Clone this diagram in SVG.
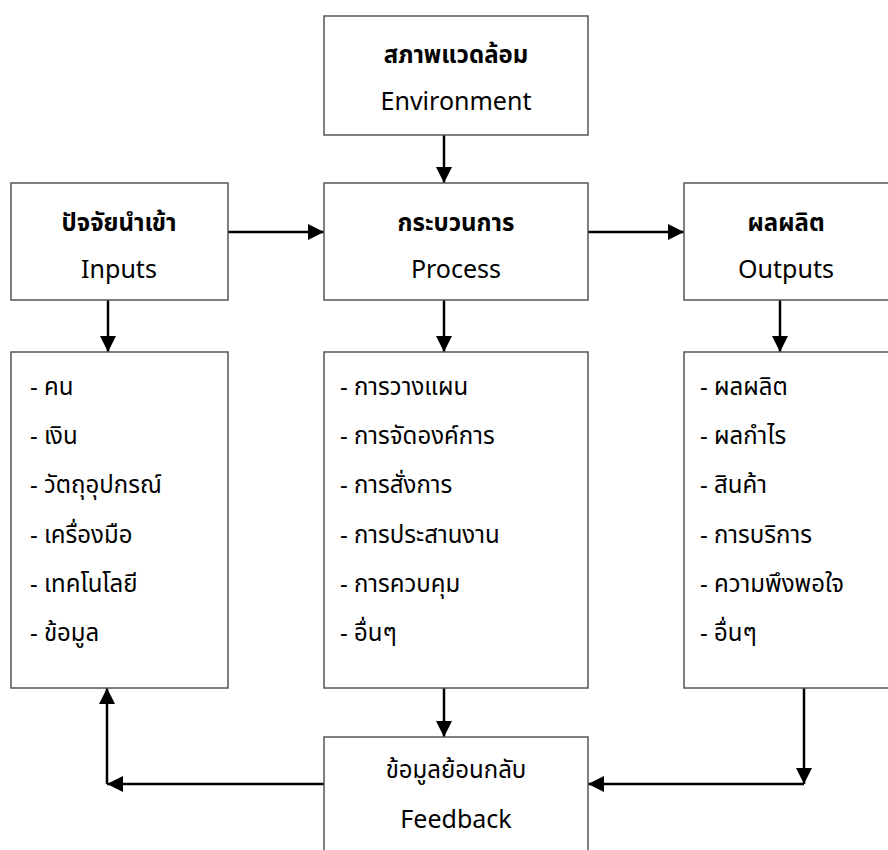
<svg xmlns="http://www.w3.org/2000/svg" width="888" height="850" viewBox="0 0 888 850">
<style>
.box{fill:#fff;stroke:#555;stroke-width:1.5}
.t{font-family:"Noto Sans","Noto Sans Thai","Open Sans",sans-serif;font-size:24px;fill:#000}
.e{font-size:25px}
.c{text-anchor:middle}
.b{font-weight:bold}
.ln{fill:none;stroke:#000;stroke-width:2.5}
</style>
<defs>
<marker id="ah" markerUnits="userSpaceOnUse" markerWidth="16" markerHeight="16" viewBox="0 0 16 16" refX="16" refY="8" orient="auto">
<path d="M0,0 L16,8 L0,16 z" fill="#000"/>
</marker>
</defs>
<g id="connectors">
<path class="ln" d="M444,135 V183" marker-end="url(#ah)"/>
<path class="ln" d="M228,232 H324" marker-end="url(#ah)"/>
<path class="ln" d="M588,232 H684" marker-end="url(#ah)"/>
<path class="ln" d="M108,300 V352" marker-end="url(#ah)"/>
<path class="ln" d="M444,300 V352" marker-end="url(#ah)"/>
<path class="ln" d="M780,300 V352" marker-end="url(#ah)"/>
<path class="ln" d="M444,688 V737" marker-end="url(#ah)"/>
<path class="ln" d="M804,688 V784" marker-end="url(#ah)"/>
<path class="ln" d="M804,784 H588" marker-end="url(#ah)"/>
<path class="ln" d="M324,784 H107" marker-end="url(#ah)"/>
<path class="ln" d="M107,784 V688" marker-end="url(#ah)"/>
</g>
<g id="environment">
<rect class="box" x="324" y="16" width="264" height="119"/>
<text class="t c b" x="456" y="63">สภาพแวดล้อม</text>
<text class="t e c" x="456" y="110">Environment</text>
</g>
<g id="inputs">
<rect class="box" x="11" y="183" width="217" height="117"/>
<text class="t c b" x="119" y="231">ปัจจัยนำเข้า</text>
<text class="t e c" x="119" y="278">Inputs</text>
</g>
<g id="process">
<rect class="box" x="324" y="183" width="264" height="117"/>
<text class="t c b" x="456" y="231">กระบวนการ</text>
<text class="t e c" x="456" y="278">Process</text>
</g>
<g id="outputs">
<rect class="box" x="684" y="183" width="210" height="117"/>
<text class="t c b" x="786" y="231">ผลผลิต</text>
<text class="t e c" x="786" y="278">Outputs</text>
</g>
<g id="inputs-list">
<rect class="box" x="11" y="352" width="217" height="336"/>
<text class="t" x="30" y="395">- คน</text>
<text class="t" x="30" y="444">- เงิน</text>
<text class="t" x="30" y="493">- วัตถุอุปกรณ์</text>
<text class="t" x="30" y="543">- เครื่องมือ</text>
<text class="t" x="30" y="592">- เทคโนโลยี</text>
<text class="t" x="30" y="641">- ข้อมูล</text>
</g>
<g id="process-list">
<rect class="box" x="324" y="352" width="264" height="336"/>
<text class="t" x="340" y="395">- การวางแผน</text>
<text class="t" x="340" y="444">- การจัดองค์การ</text>
<text class="t" x="340" y="493">- การสั่งการ</text>
<text class="t" x="340" y="543">- การประสานงาน</text>
<text class="t" x="340" y="592">- การควบคุม</text>
<text class="t" x="340" y="641">- อื่นๆ</text>
</g>
<g id="outputs-list">
<rect class="box" x="684" y="352" width="210" height="336"/>
<text class="t" x="700" y="395">- ผลผลิต</text>
<text class="t" x="700" y="444">- ผลกำไร</text>
<text class="t" x="700" y="493">- สินค้า</text>
<text class="t" x="700" y="543">- การบริการ</text>
<text class="t" x="700" y="592">- ความพึงพอใจ</text>
<text class="t" x="700" y="641">- อื่นๆ</text>
</g>
<g id="feedback">
<rect class="box" x="324" y="737" width="264" height="120"/>
<text class="t c" x="456" y="778">ข้อมูลย้อนกลับ</text>
<text class="t e c" x="456" y="828">Feedback</text>
</g>
</svg>
